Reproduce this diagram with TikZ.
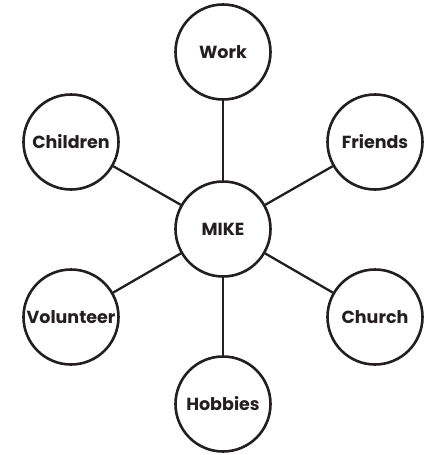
\documentclass[tikz,border=0pt]{standalone}
\usepackage{fontspec}
\setmainfont{Poppins}
\definecolor{ink}{HTML}{231F20}
\tikzset{
    topic/.style={draw=ink, text=ink, circle, line width=2.6pt, minimum size=95pt, inner sep=0pt, font=\fontsize{17.5}{20}\selectfont\bfseries},
    link/.style={draw=ink, line width=2.3pt},
}
\begin{document}
\begin{tikzpicture}[x=1pt, y=-1pt]
    \useasboundingbox (0, 0) rectangle (428, 455);

    \node[topic] (mike) at (223, 229) {MIKE};
    \node[topic] (work) at (223, 52) {Work};
    \node[topic] (friends) at (375, 142) {Friends};
    \node[topic] (church) at (375, 317) {Church};
    \node[topic] (hobbies) at (223, 404) {Hobbies};
    \node[topic] (volunteer) at (71, 317) {Volunteer};
    \node[topic] (children) at (71, 142) {Children};

    \draw[link] (mike) -- (work);
    \draw[link] (mike) -- (friends);
    \draw[link] (mike) -- (church);
    \draw[link] (mike) -- (hobbies);
    \draw[link] (mike) -- (volunteer);
    \draw[link] (mike) -- (children);
\end{tikzpicture}
\end{document}
